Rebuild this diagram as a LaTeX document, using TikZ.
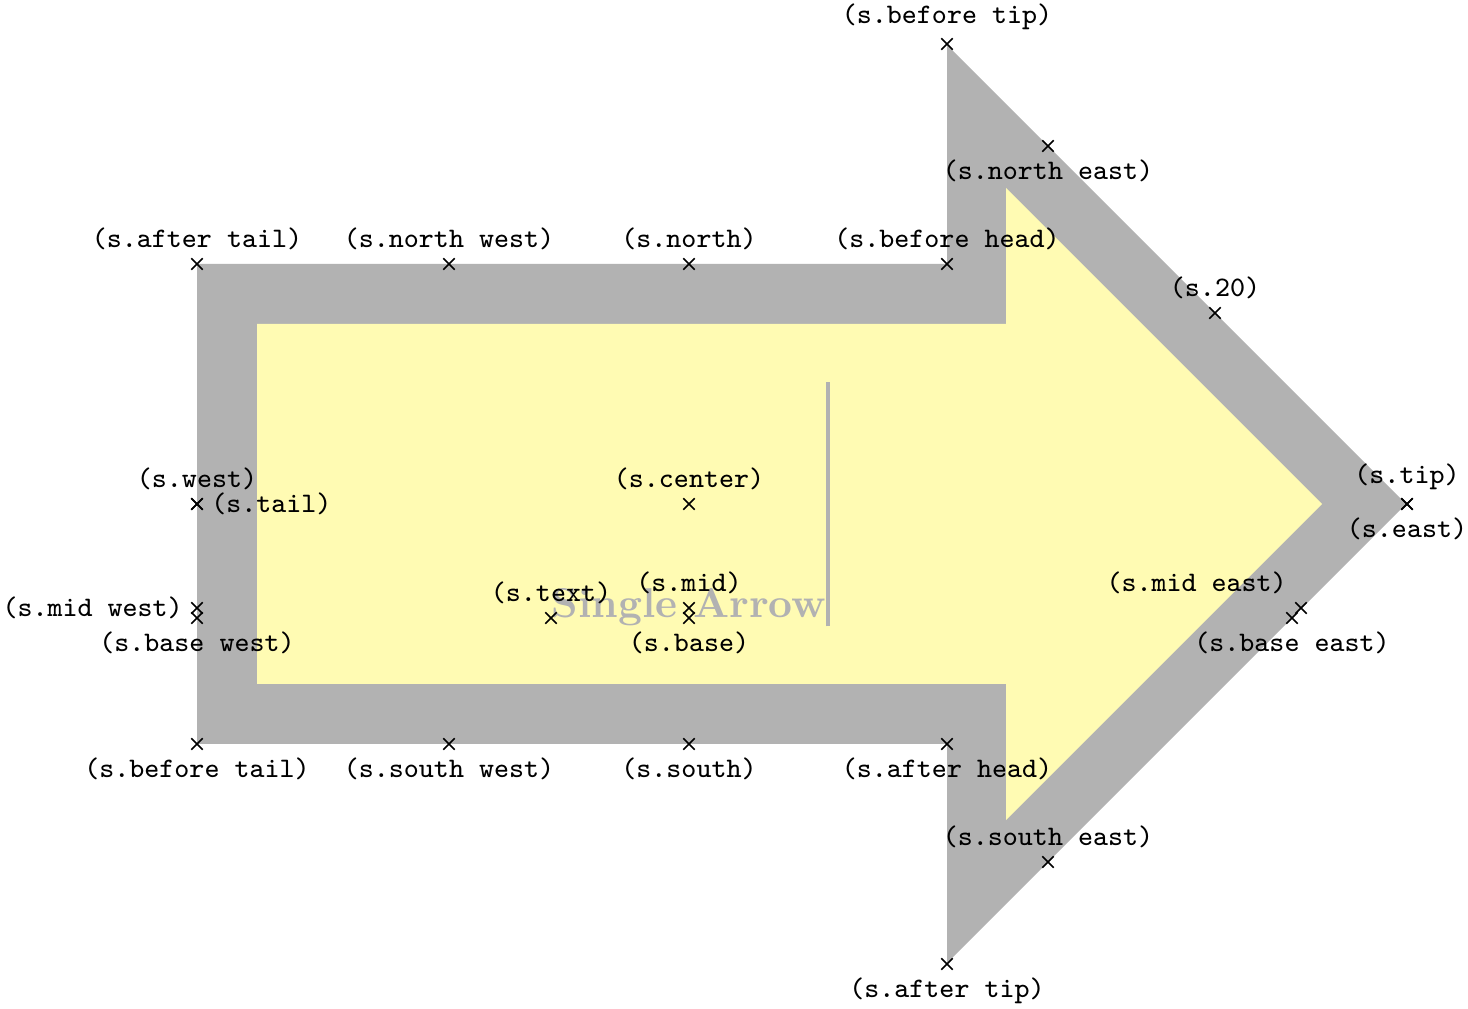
\documentclass[tikz,border=0pt]{standalone}
\begin{document}
\begin{tikzpicture}[x=0.2475pt,y=-0.2475pt,
  anclabel/.style={font=\scriptsize\ttfamily},
  crossmark/.style={line width=0.4pt,black}]
\useasboundingbox (0,0) rectangle (1468,1009);
% arrow shape: grey border and yellow interior
\fill[black!30] (197,264) -- (947,264) -- (947,45) -- (1406,504) -- (947,963) -- (947,744) -- (197,744) -- cycle;
\fill[yellow!30] (257,324) -- (1006,324) -- (1006,188) -- (1322,504) -- (1006,820) -- (1006,684) -- (257,684) -- cycle;
\node[anchor=base west, inner sep=0pt, text=black!30, font=\fontsize{10.3}{12}\selectfont\bfseries] (txt) at (551,618) {Single Arrow\vrule width 1pt height 58.5pt};
% anchors
\foreach \nm/\px/\py/\pl in {
  text/551/618/above, center/689/504/above, 20/1215/313/above,
  mid/689/608/above, mid west/197/608/left, mid east/1301/608/above left,
  base/689/618/below, base west/197/618/below, base east/1292/618/below,
  tip/1407/504/above, before tip/947/44/above, after tip/947/964/below,
  north/689/264/above, south/689/744/below, east/1407/504/below, west/197/504/above,
  north west/449/264/above, north east/1048/146/below,
  south west/449/744/below, south east/1048/862/above,
  before head/947/264/above, after head/947/744/below,
  before tail/197/744/below, after tail/197/264/above,
  tail/197/504/right}
{
  \coordinate (s-\nm) at (\px,\py);
  \draw[crossmark] (s-\nm) +(-1.414pt,-1.414pt) -- +(1.414pt,1.414pt)
                           +(-1.414pt,1.414pt) -- +(1.414pt,-1.414pt);
  \node[anclabel,\pl] (l-\nm) at (s-\nm) {(s.\nm)};
}
\end{tikzpicture}
\end{document}
